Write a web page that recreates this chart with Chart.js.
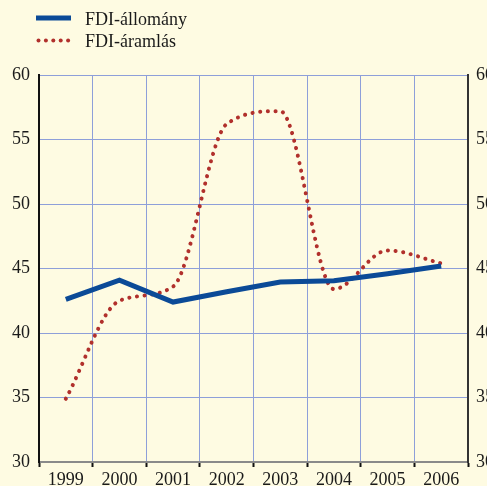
<!DOCTYPE html>
<html>
<head>
<meta charset="utf-8">
<script src="https://cdn.jsdelivr.net/npm/chart.js@4"></script>
<style>
  html, body { margin: 0; padding: 0; background: #fefbe2; }
  #wrap { position: relative; width: 487px; height: 486px; }
</style>
</head>
<body>
<div id="wrap"><canvas id="myChart" width="487" height="486"></canvas></div>
<script>
const years = ['1999', '2000', '2001', '2002', '2003', '2004', '2005', '2006'];
const allomany = [42.6, 44.1, 42.4, 43.2, 43.95, 44.05, 44.6, 45.2];
const aramlas = [34.9, 42.5, 43.6, 56.2, 57.2, 43.4, 46.4, 45.4];
const yTicks = [30, 35, 40, 45, 50, 55, 60];

const serif = '"Liberation Serif", "DejaVu Serif", serif';
const gridBlue = '#8e9fd9';

// legend drawn by hand, two rows top left
const legendPlugin = {
    id: 'stackLegend',
    afterDraw(chart) {
        const c = chart.ctx;
        c.save();
        c.strokeStyle = '#0b4a97';
        c.lineWidth = 5;
        c.beginPath();
        c.moveTo(36, 18);
        c.lineTo(71, 18);
        c.stroke();
        c.fillStyle = '#b1302c';
        for (let i = 0; i < 5; i++) {
            c.beginPath();
            c.arc(38.5 + i * 7.4, 40.5, 2, 0, Math.PI * 2);
            c.fill();
        }
        c.fillStyle = '#1a1a1a';
        c.font = '18px ' + serif;
        c.textBaseline = 'alphabetic';
        c.fillText(chart.data.datasets[0].label, 85, 25);
        c.fillText(chart.data.datasets[1].label, 85, 47);
        c.restore();
    }
};

const ctx = document.getElementById('myChart');

new Chart(ctx, {
    type: 'line',
    data: {
        labels: years,
        datasets: [{
            label: 'FDI-állomány',
            data: allomany,
            borderColor: '#0b4a97',
            borderWidth: 5,
            pointRadius: 0,
            tension: 0,
            yAxisID: 'y'
        }, {
            label: 'FDI-áramlás',
            data: aramlas,
            borderColor: '#b1302c',
            borderWidth: 4,
            borderDash: [0.1, 7.6],
            borderCapStyle: 'round',
            pointRadius: 0,
            cubicInterpolationMode: 'monotone',
            yAxisID: 'y'
        }]
    },
    options: {
        responsive: false,
        animation: false,
        layout: { padding: { top: 75, left: 0, right: 0, bottom: 0 } },
        plugins: {
            legend: { display: false },
            tooltip: { enabled: false }
        },
        scales: {
            x: {
                offset: true,
                grid: {
                    offset: true,
                    color: gridBlue,
                    lineWidth: 1,
                    tickColor: '#111',
                    tickLength: 5,
                    tickWidth: 2
                },
                border: { color: '#8a8a8a', width: 2 },
                ticks: {
                    color: '#1a1a1a',
                    font: { family: serif, size: 18 },
                    padding: 2,
                    maxRotation: 0
                },
                afterFit(scale) { scale.height = 24; }
            },
            y: {
                position: 'left',
                min: 30,
                max: 60,
                afterBuildTicks(scale) { scale.ticks = yTicks.map(v => ({ value: v })); },
                grid: { color: gridBlue, lineWidth: 1, drawTicks: false },
                border: { color: '#111', width: 2 },
                ticks: {
                    color: '#1a1a1a',
                    font: { family: serif, size: 18 },
                    padding: 9
                },
                afterFit(scale) { scale.width = 39; }
            },
            y2: {
                position: 'right',
                min: 30,
                max: 60,
                afterBuildTicks(scale) { scale.ticks = yTicks.map(v => ({ value: v })); },
                grid: { display: false, drawTicks: false },
                border: { color: '#333', width: 2 },
                ticks: {
                    color: '#1a1a1a',
                    font: { family: serif, size: 18 },
                    padding: 8
                },
                afterFit(scale) { scale.width = 19; }
            }
        }
    },
    plugins: [legendPlugin]
});
</script>
</body>
</html>
